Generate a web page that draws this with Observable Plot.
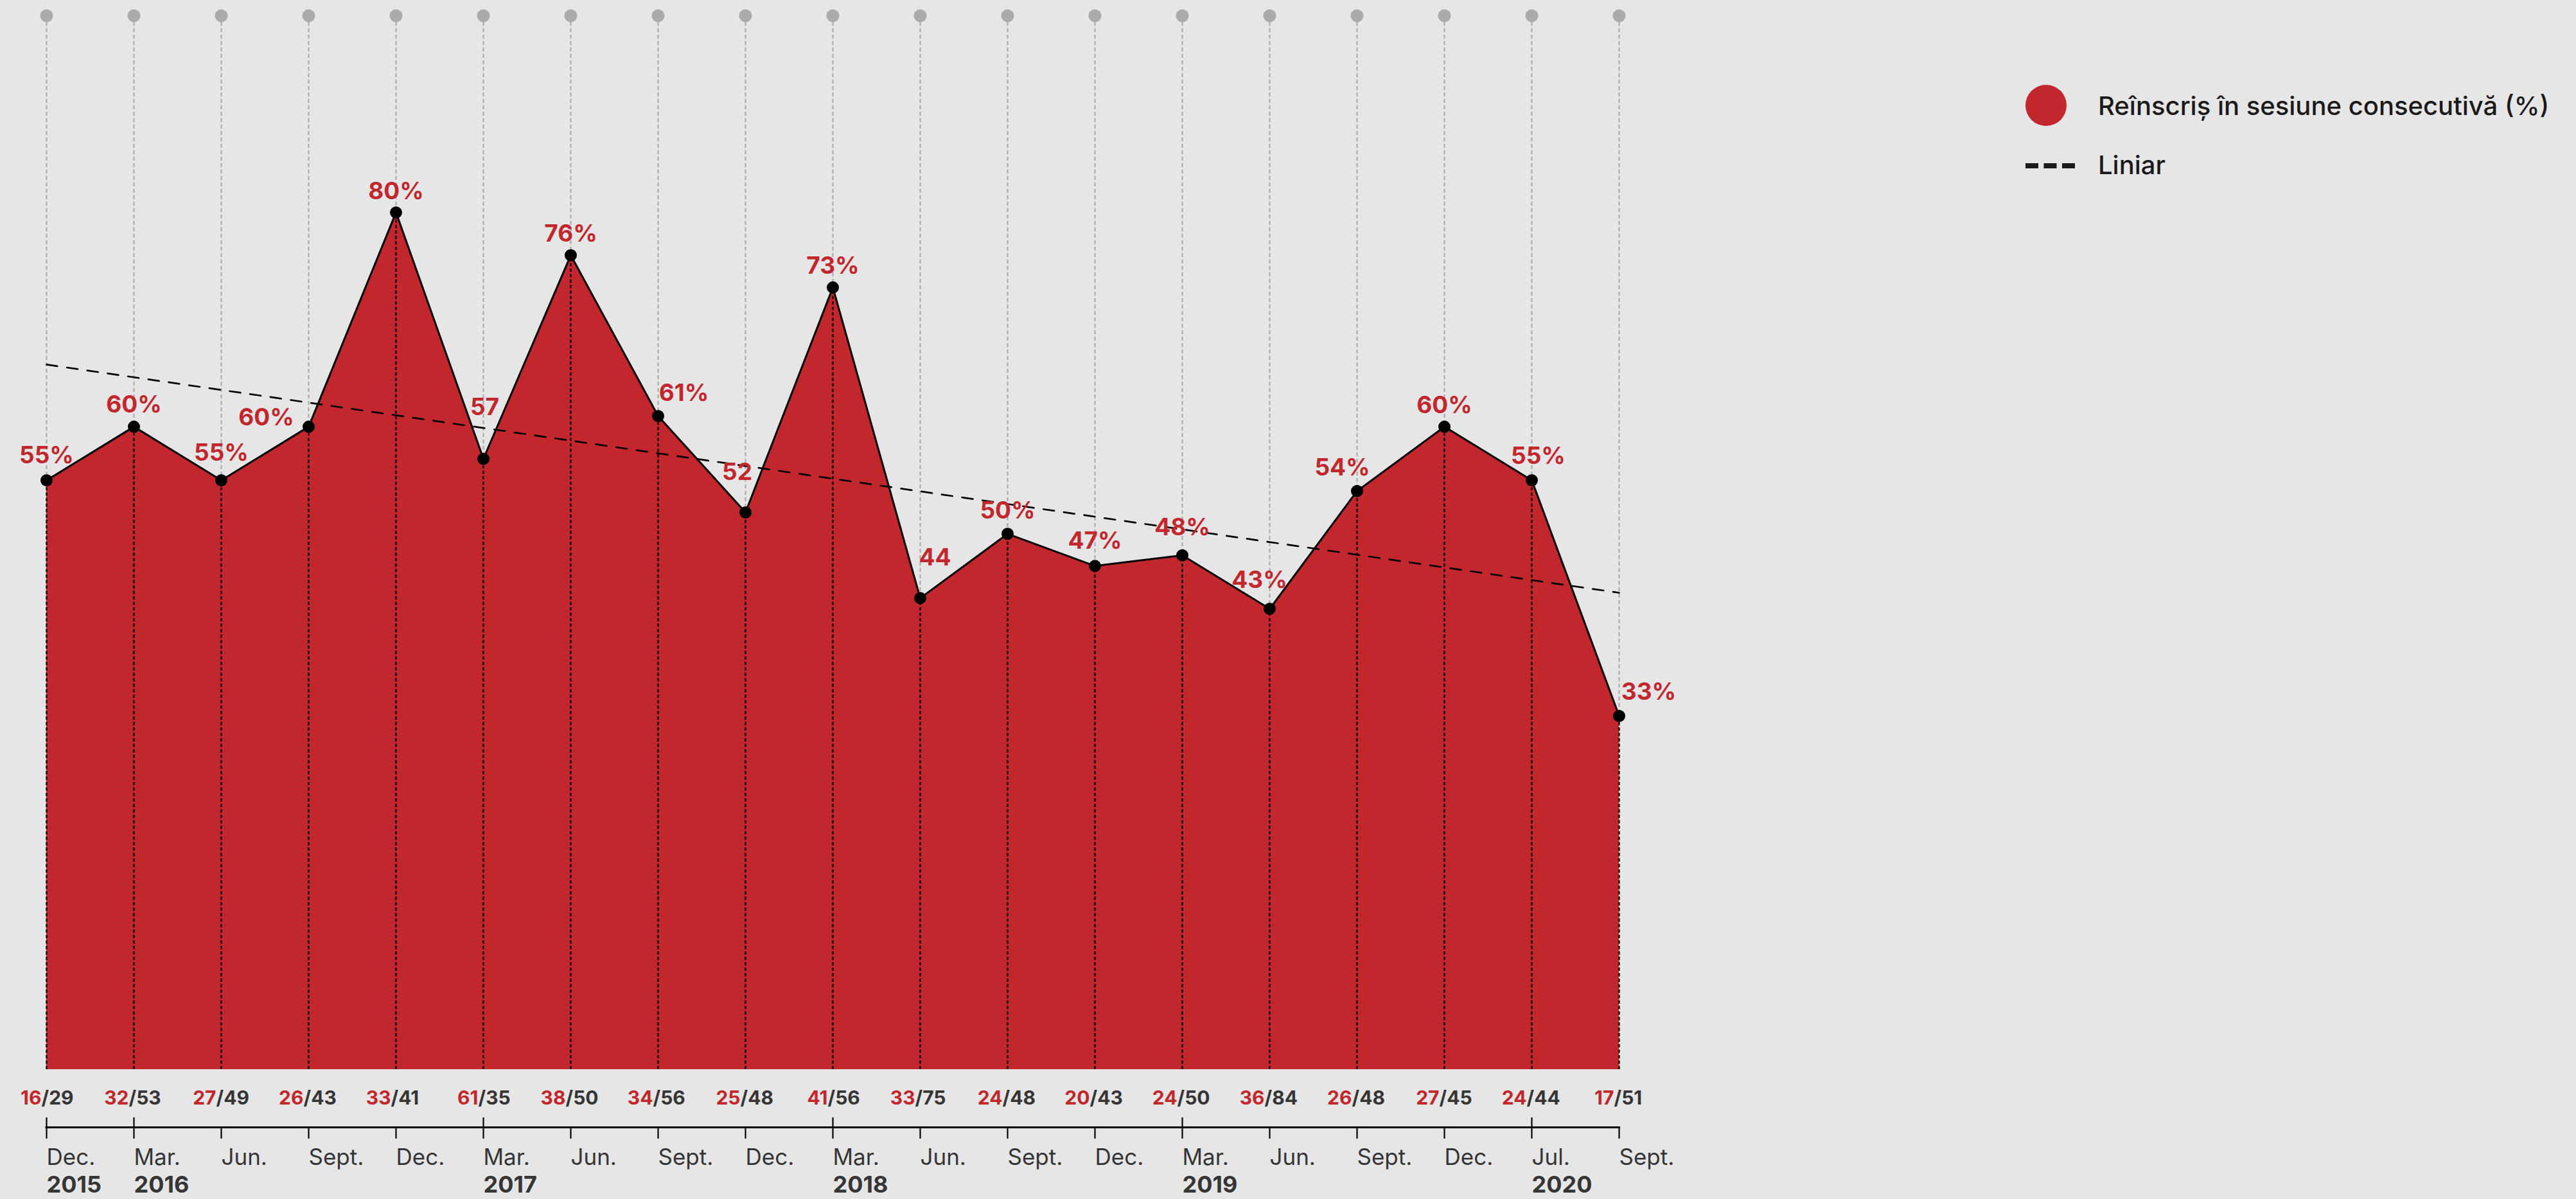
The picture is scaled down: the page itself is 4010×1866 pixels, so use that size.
<!DOCTYPE html>
<html><head><meta charset="utf-8">
<script src="https://cdn.jsdelivr.net/npm/d3@7"></script>
<script src="https://cdn.jsdelivr.net/npm/@observablehq/plot@0.6"></script>
<style>
html,body{margin:0;padding:0;background:#e6e6e6;}
#wrap{position:relative;width:4010px;height:1866px;overflow:hidden;}
#legend{position:absolute;left:0;top:0;pointer-events:none;}
</style></head><body><div id="wrap"></div>
<script>
// ---- data ----
const periods = ["2015-12","2016-03","2016-06","2016-09","2016-12","2017-03","2017-06","2017-09","2017-12",
                 "2018-03","2018-06","2018-09","2018-12","2019-03","2019-06","2019-09","2019-12","2020-07","2020-09"];
const months = ["Dec.","Mar.","Jun.","Sept.","Dec.","Mar.","Jun.","Sept.","Dec.","Mar.","Jun.","Sept.","Dec.","Mar.","Jun.","Sept.","Dec.","Jul.","Sept."];
const years = ["2015","2016","","","","2017","","","","2018","","","","2019","","","","2020",""];
const values = [55,60,55,60,80,57,76,61,52,73,44,50,47,48,43,54,60,55,33];
const valueLabels = ["55%","60%","55%","60%","80%","57","76%","61%","52","73%","44","50%","47%","48%","43%","54%","60%","55%","33%"];
const reenrolled = [16,32,27,26,33,61,38,34,25,41,33,24,20,24,36,26,27,24,17];
const totals = [29,53,49,43,41,35,50,56,48,56,75,48,43,50,84,48,45,44,51];
const trendEnds = [65.8, 44.5]; // linear trend value at first and last period
const majorTicks = ["2015-12","2016-03","2017-03","2018-03","2019-03","2020-07"];
const legendSeries = "Reînscriș în sesiune consecutivă (%)";
const legendTrend = "Liniar";

// ---- layout (label nudges in px) ----
const labelNudge = [[0,-26],[0,-22],[0,-30],[-66,-2],[0,-21],[2,-68],[0,-21],[40,-23],[-13,-50],[0,-21],
                    [23,-51],[0,-24],[0,-27],[0,-31],[-16,-33],[-23,-24],[0,-21],[10,-25],[46,-25]];

const RED = "#c1272d", GRAY = "#aaaaaa", DARK = "#353535";
const rows = periods.map((p, i) => ({p, v: values[i], lab: valueLabels[i], num: String(reenrolled[i]), den: "/" + totals[i], m: months[i], yr: years[i]}));
const trendRows = [{p: periods[0], v: trendEnds[0]}, {p: periods[periods.length - 1], v: trendEnds[1]}];
const majors = periods.filter(p => majorTicks.includes(p));
const minors = periods.filter(p => !majorTicks.includes(p));

const font = "Inter, 'Noto Sans', sans-serif";

const labelMarks = rows.map((d, i) => Plot.text([d], {
  x: "p", y: "v", text: "lab", dx: labelNudge[i][0], dy: labelNudge[i][1],
  lineAnchor: "bottom", textAnchor: "middle", fill: RED, fontSize: 37, fontWeight: 700
}));

const chart = Plot.plot({
  width: 4010, height: 1866,
  marginLeft: 70.5, marginRight: 1488, marginTop: 0, marginBottom: 202,
  style: {background: "#e6e6e6", fontFamily: font, overflow: "visible"},
  x: {type: "point", domain: periods, padding: 0, axis: null},
  y: {domain: [0, 99.8], axis: null},
  marks: [
    Plot.ruleX(periods, {x: d => d, insetTop: 24, stroke: GRAY, strokeWidth: 2.2, strokeDasharray: "6,4"}),
    Plot.dot(periods, {x: d => d, frameAnchor: "top", dy: 24, r: 10, fill: GRAY, stroke: null}),
    Plot.areaY(rows, {x: "p", y: "v", fill: RED}),
    Plot.ruleX(rows, {x: "p", y1: 0, y2: "v", stroke: "#000", strokeWidth: 2.3, strokeDasharray: "5,3.5"}),
    Plot.line(rows, {x: "p", y: "v", stroke: "#000", strokeWidth: 3}),
    Plot.line(trendRows, {x: "p", y: "v", stroke: "#000", strokeWidth: 2.7, strokeDasharray: "17,15"}),
    Plot.dot(rows, {x: "p", y: "v", r: 9.5, fill: "#000", stroke: null}),
    ...labelMarks,
    // bottom axis
    Plot.ruleY([0], {dy: 90, stroke: "#000", strokeWidth: 3}),
    Plot.ruleX(majors, {x: d => d, y1: 0, y2: 0, dy: 75, insetBottom: -33, stroke: "#000", strokeWidth: 2.2}),
    Plot.ruleX(minors, {x: d => d, y1: 0, y2: 0, dy: 90, insetBottom: -18, stroke: "#000", strokeWidth: 2.2}),
    Plot.text(rows, {x: "p", y: 0, text: "num", dx: -8, dy: 54, textAnchor: "end", lineAnchor: "bottom", fill: RED, fontSize: 30, fontWeight: 700}),
    Plot.text(rows, {x: "p", y: 0, text: "den", dx: -8, dy: 54, textAnchor: "start", lineAnchor: "bottom", fill: DARK, fontSize: 30, fontWeight: 700}),
    Plot.text(rows, {x: "p", y: 0, text: "m", dy: 148, textAnchor: "start", lineAnchor: "bottom", fill: DARK, fontSize: 35, fontWeight: 400}),
    Plot.text(rows, {x: "p", y: 0, text: "yr", dy: 191, textAnchor: "start", lineAnchor: "bottom", fill: DARK, fontSize: 36, fontWeight: 700})
  ]
});

const wrap = document.getElementById("wrap");
wrap.appendChild(chart);

// legend overlay
const lg = d3.select(wrap).append("svg").attr("id", "legend").attr("width", 4010).attr("height", 400)
  .style("font-family", font);
lg.append("circle").attr("cx", 3185).attr("cy", 164).attr("r", 32).attr("fill", RED);
lg.append("text").attr("x", 3266).attr("y", 179).attr("font-size", 40).attr("font-weight", 500).attr("fill", "#1a1a1a").text(legendSeries);
lg.append("line").attr("x1", 3153).attr("x2", 3230).attr("y1", 258).attr("y2", 258)
  .attr("stroke", "#1a1a1a").attr("stroke-width", 8).attr("stroke-dasharray", "20,8.5");
lg.append("text").attr("x", 3266).attr("y", 271).attr("font-size", 40).attr("font-weight", 500).attr("fill", "#1a1a1a").text(legendTrend);
</script></body></html>
